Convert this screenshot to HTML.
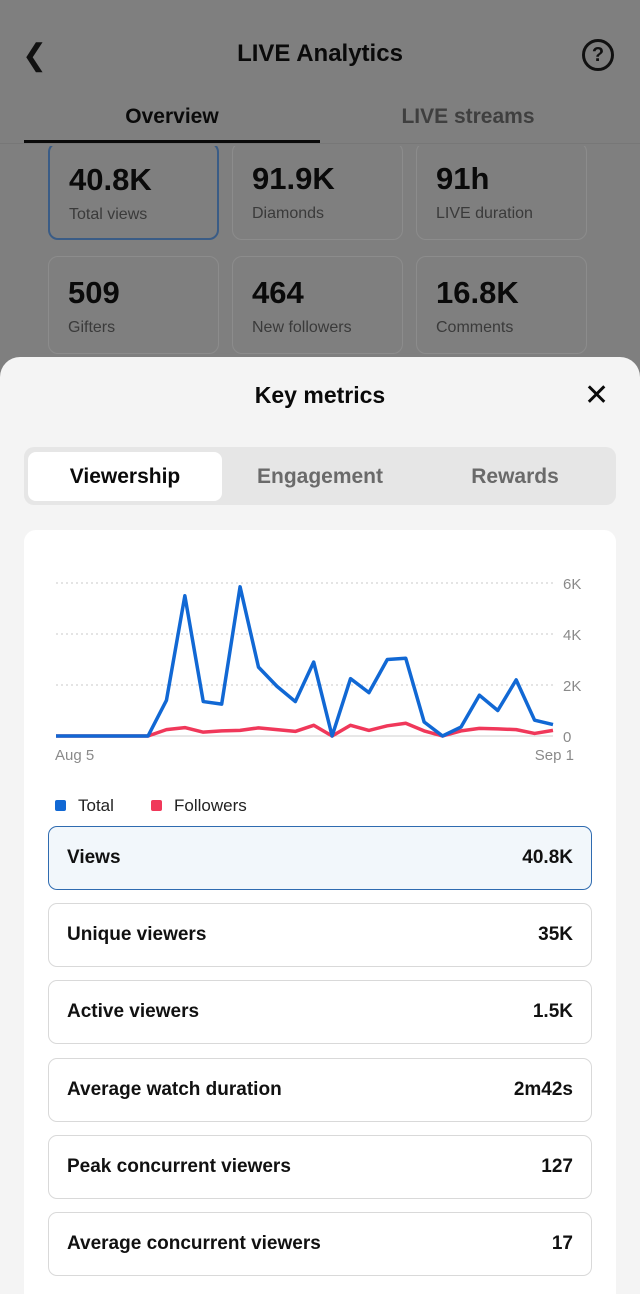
<!DOCTYPE html>
<html><head><meta charset="utf-8">
<style>
*{box-sizing:border-box;margin:0;padding:0}
html{width:640px;height:1294px;overflow:hidden}
body{width:640px;height:1294px;overflow:hidden;background:#7f7f7f;font-family:"Liberation Sans",sans-serif;position:relative;color:#111}
.abs{position:absolute}
.stat{position:absolute;width:171px;height:98px;border:1px solid #8c8c8c;border-radius:10px}
.stat .v{position:absolute;left:19px;top:18px;font-size:31px;font-weight:bold;color:#0a0a0a}
.stat .l{position:absolute;left:19px;top:62px;font-size:16px;color:#3a3a3a}
.row{position:absolute;left:48px;width:544px;height:64px;border:1.5px solid #d9d9d9;border-radius:9px;background:#fff}
.row .k{position:absolute;left:18px;top:20px;font-size:19px;font-weight:bold;color:#111}
.row .n{position:absolute;right:18px;top:20px;font-size:19px;font-weight:bold;color:#111}
</style></head><body>
<div class="stat" style="left:48px;top:142px;border:2px solid #3a5c86"><div class="v">40.8K</div><div class="l">Total views</div></div>
<div class="stat" style="left:232px;top:142px"><div class="v">91.9K</div><div class="l">Diamonds</div></div>
<div class="stat" style="left:416px;top:142px"><div class="v">91h</div><div class="l">LIVE duration</div></div>
<div class="stat" style="left:48px;top:256px"><div class="v">509</div><div class="l">Gifters</div></div>
<div class="stat" style="left:232px;top:256px"><div class="v">464</div><div class="l">New followers</div></div>
<div class="stat" style="left:416px;top:256px"><div class="v">16.8K</div><div class="l">Comments</div></div>

<div class="abs" style="left:0;top:0;width:640px;height:146px;background:#7f7f7f"></div>
<div class="abs" style="left:22px;top:38px;font-size:30px;color:#111">&#10094;</div>
<div class="abs" style="left:0;width:640px;top:40px;text-align:center;font-size:24px;font-weight:bold;color:#0a0a0a">LIVE Analytics</div>
<div class="abs" style="left:582px;top:39px;width:32px;height:32px;border:3px solid #111;border-radius:50%;text-align:center;font-weight:bold;font-size:20px;line-height:26px;color:#111">?</div>
<div class="abs" style="left:24px;width:296px;top:105px;text-align:center;font-size:21px;font-weight:bold;color:#0a0a0a">Overview</div>
<div class="abs" style="left:320px;width:296px;top:105px;text-align:center;font-size:21px;font-weight:bold;color:#3f3f3f">LIVE streams</div>
<div class="abs" style="left:24px;top:140px;width:296px;height:3px;background:#0a0a0a"></div>
<div class="abs" style="left:0;top:143px;width:640px;height:1px;background:#777"></div>

<div class="abs" style="left:0;top:357px;width:640px;height:937px;background:#f4f4f4;border-radius:20px 20px 0 0"></div>
<div class="abs" style="left:0;width:640px;top:382px;text-align:center;font-size:23px;font-weight:bold;color:#0a0a0a">Key metrics</div>
<div class="abs" style="left:584px;top:378px;font-size:30px;color:#0a0a0a">&#10005;</div>
<div class="abs" style="left:24px;top:447px;width:592px;height:58px;background:#e6e6e6;border-radius:10px"></div>
<div class="abs" style="left:28px;top:452px;width:194px;height:49px;background:#fff;border-radius:8px;text-align:center;line-height:49px;font-size:21px;font-weight:bold;color:#0a0a0a">Viewership</div>
<div class="abs" style="left:222px;top:452px;width:196px;height:49px;text-align:center;line-height:49px;font-size:21px;font-weight:bold;color:#6a6a6a">Engagement</div>
<div class="abs" style="left:418px;top:452px;width:194px;height:49px;text-align:center;line-height:49px;font-size:21px;font-weight:bold;color:#6a6a6a">Rewards</div>

<div class="abs" style="left:24px;top:530px;width:592px;height:764px;background:#fff;border-radius:12px 12px 0 0"></div>
<svg class="abs" style="left:0;top:0" width="640" height="800" id="chart"></svg>

<div class="abs" style="left:55px;top:796px;font-size:17px;color:#222"><span style="display:inline-block;width:11px;height:11px;background:#1168d4;border-radius:2px;margin-right:12px"></span>Total</div>
<div class="abs" style="left:151px;top:796px;font-size:17px;color:#222"><span style="display:inline-block;width:11px;height:11px;background:#f0385a;border-radius:2px;margin-right:12px"></span>Followers</div>

<div class="row" style="top:826px;background:#f2f7fb;border-color:#2f6bb0"><div class="k">Views</div><div class="n">40.8K</div></div>
<div class="row" style="top:903px"><div class="k">Unique viewers</div><div class="n">35K</div></div>
<div class="row" style="top:980px"><div class="k">Active viewers</div><div class="n">1.5K</div></div>
<div class="row" style="top:1058px"><div class="k">Average watch duration</div><div class="n">2m42s</div></div>
<div class="row" style="top:1135px"><div class="k">Peak concurrent viewers</div><div class="n">127</div></div>
<div class="row" style="top:1212px"><div class="k">Average concurrent viewers</div><div class="n">17</div></div>

<script>
const totalViews=[0,0,0,0,0,0,1.4,5.5,1.35,1.25,5.85,2.7,1.95,1.35,2.9,0,2.25,1.7,3.0,3.05,0.55,0,0.35,1.6,1.0,2.2,0.62,0.45];
const followers=[0,0,0,0,0,0,0.25,0.33,0.15,0.2,0.22,0.32,0.25,0.18,0.42,0,0.42,0.22,0.4,0.5,0.2,0,0.2,0.3,0.28,0.25,0.1,0.22];
const yTicks=[0,2,4,6];
const yTickLabels=["0","2K","4K","6K"];
const xLabels=["Aug 5","Sep 1"];
const svg=document.getElementById('chart');
const NS='http://www.w3.org/2000/svg';
const x0=56,x1=553,yb=736,yt=583;
const xs=i=>x0+(x1-x0)*i/(totalViews.length-1);
const ys=v=>yb-(yb-yt)*v/6;
function mk(t,a){const e=document.createElementNS(NS,t);for(const k in a)e.setAttribute(k,a[k]);svg.appendChild(e);return e;}
yTicks.forEach((t,i)=>{
  const l=mk('line',{x1:x0,x2:x1,y1:ys(t),y2:ys(t),stroke:t===0?'#cfcfcf':'#c8c8c8','stroke-width':1,'stroke-dasharray':t===0?'':'2,3'});
  
  
  const tx=mk('text',{x:563,y:ys(t)+6,'font-size':15,fill:'#8a8a8a','font-family':'Liberation Sans'});
  tx.textContent=yTickLabels[i];
  
  
});
const a=mk('text',{x:55,y:760,'font-size':15,fill:'#8a8a8a','font-family':'Liberation Sans'});a.textContent=xLabels[0];


const b=mk('text',{x:574,y:760,'font-size':15,fill:'#8a8a8a','text-anchor':'end','font-family':'Liberation Sans'});b.textContent=xLabels[1];


function line(data,color,name){
  const p=mk('polyline',{points:data.map((v,i)=>xs(i)+','+ys(v)).join(' '),fill:'none',stroke:color,'stroke-width':3.5,'stroke-linejoin':'round'});
  
  
}
line(followers,'#f0385a','followers-line');
line(totalViews,'#1168d4','total-line');
</script>
</body></html>
